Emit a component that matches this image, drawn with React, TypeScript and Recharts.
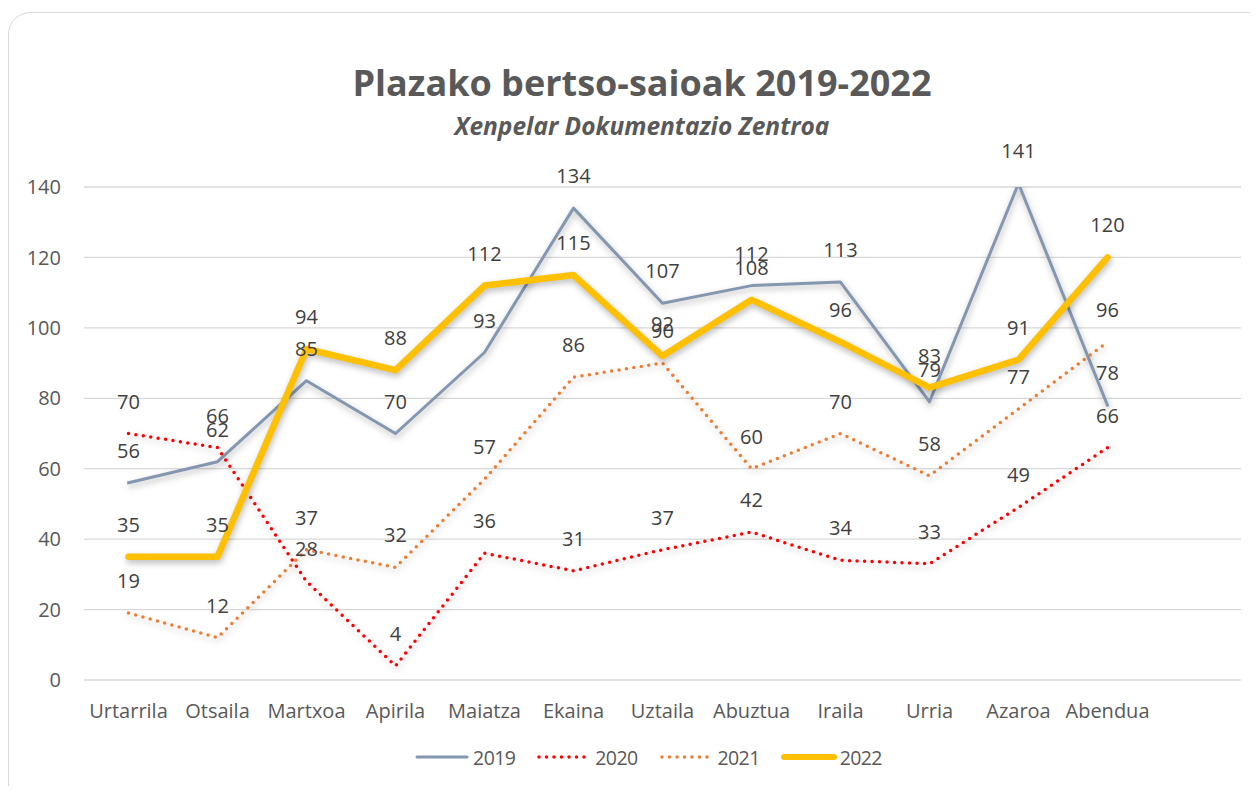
import React from "react";
import {
  LineChart,
  Line,
  XAxis,
  YAxis,
  CartesianGrid,
  Legend,
  LabelList,
} from "recharts";

const months = [
  "Urtarrila",
  "Otsaila",
  "Martxoa",
  "Apirila",
  "Maiatza",
  "Ekaina",
  "Uztaila",
  "Abuztua",
  "Iraila",
  "Urria",
  "Azaroa",
  "Abendua",
  "",
];
const y2019 = [56, 62, 85, 70, 93, 134, 107, 112, 113, 79, 141, 78, null];
const y2020 = [70, 66, 28, 4, 36, 31, 37, 42, 34, 33, 49, 66, null];
const y2021 = [19, 12, 37, 32, 57, 86, 90, 60, 70, 58, 77, 96, null];
const y2022 = [35, 35, 94, 88, 112, 115, 92, 108, 96, 83, 91, 120, null];
const yTicks = [0, 20, 40, 60, 80, 100, 120, 140];

const data = months.map((m, i) => ({
  month: m,
  y2019: y2019[i],
  y2020: y2020[i],
  y2021: y2021[i],
  y2022: y2022[i],
}));

const FONT = "'Open Sans', 'Noto Sans', sans-serif";

const series = [
  { key: "y2019", name: "2019", color: "#8497B0", width: 3, dash: undefined as string | undefined },
  { key: "y2020", name: "2020", color: "#FF0000", width: 3.5, dash: "0 7.5" },
  { key: "y2021", name: "2021", color: "#ED7D31", width: 3.5, dash: "0 7.5" },
  { key: "y2022", name: "2022", color: "#FFC000", width: 6.5, dash: undefined as string | undefined },
];

const LegendContent = () => (
  <div
    style={{
      display: "flex",
      justifyContent: "center",
      gap: 21,
      paddingTop: 24,
      paddingLeft: 31,
      fontFamily: FONT,
      fontSize: 19.5,
      letterSpacing: -0.6,
      color: "#595959",
    }}
  >
    {series.map((s) => (
      <div key={s.key} style={{ display: "flex", alignItems: "center", height: 26 }}>
        <svg width={56} height={12} style={{ marginRight: 3 }}>
          <line
            x1={3}
            y1={6}
            x2={53}
            y2={6}
            stroke={s.color}
            strokeWidth={s.width === 6.5 ? 6 : s.width}
            strokeDasharray={s.dash}
            strokeLinecap="round"
          />
        </svg>
        <span>{s.name}</span>
      </div>
    ))}
  </div>
);

export default function App() {
  return (
    <div
      style={{
        position: "relative",
        width: 1242,
        height: 778,
        overflow: "hidden",
        fontFamily: FONT,
      }}
    >
      <style>{`.recharts-line-curve { filter: drop-shadow(1px 3px 3px rgba(0,0,0,0.28)); }`}</style>
      <div
        style={{
          position: "absolute",
          left: 0,
          top: 4,
          width: 1300,
          height: 900,
          border: "1.5px solid #D9D9D9",
          borderRadius: 22,
          boxSizing: "border-box",
        }}
      />
      <div
        style={{
          position: "absolute",
          left: 0,
          top: 51,
          width: 1268,
          textAlign: "center",
          fontFamily: FONT,
          fontWeight: 700,
          fontSize: 36,
          lineHeight: "48px",
          color: "#595959",
        }}
      >
        Plazako bertso-saioak 2019-2022
      </div>
      <div
        style={{
          position: "absolute",
          left: 0,
          top: 103,
          width: 1268,
          textAlign: "center",
          fontFamily: FONT,
          fontWeight: 700,
          fontStyle: "italic",
          fontSize: 24.5,
          lineHeight: "30px",
          color: "#595959",
        }}
      >
        Xenpelar Dokumentazio Zentroa
      </div>
      <div style={{ position: "absolute", left: 0, top: 0 }}>
        <LineChart
          width={1242}
          height={778}
          data={data}
          margin={{ top: 179, right: 9, left: 16, bottom: 10 }}
        >
          <CartesianGrid vertical={false} stroke="#D9D9D9" strokeWidth={1.3} />
          <XAxis
            dataKey="month"
            axisLine={false}
            tickLine={false}
            tickSize={0}
            tickMargin={24}
            height={40}
            interval={0}
            padding={{ left: 44.5, right: 44.5 }}
            tick={{ fill: "#595959", fontSize: 20, fontFamily: FONT }}
          />
          <YAxis
            domain={[0, 140]}
            allowDataOverflow
            ticks={yTicks}
            axisLine={false}
            tickLine={false}
            tickSize={0}
            tickMargin={23}
            width={60}
            tick={{ fill: "#595959", fontSize: 20, fontFamily: FONT }}
          />
          <Legend verticalAlign="bottom" height={56} content={<LegendContent />} />
          {series.map((s) => (
            <Line
              key={s.key}
              type="linear"
              dataKey={s.key}
              name={s.name}
              stroke={s.color}
              strokeWidth={s.width}
              strokeDasharray={s.dash}
              strokeLinecap="round"
              strokeLinejoin="round"
              dot={false}
              activeDot={false}
              connectNulls={false}
              isAnimationActive={false}
            >
              <LabelList
                dataKey={s.key}
                position="top"
                offset={25}
                style={{ fill: "#404040", fontSize: 20, fontFamily: FONT }}
              />
            </Line>
          ))}
        </LineChart>
      </div>
    </div>
  );
}
